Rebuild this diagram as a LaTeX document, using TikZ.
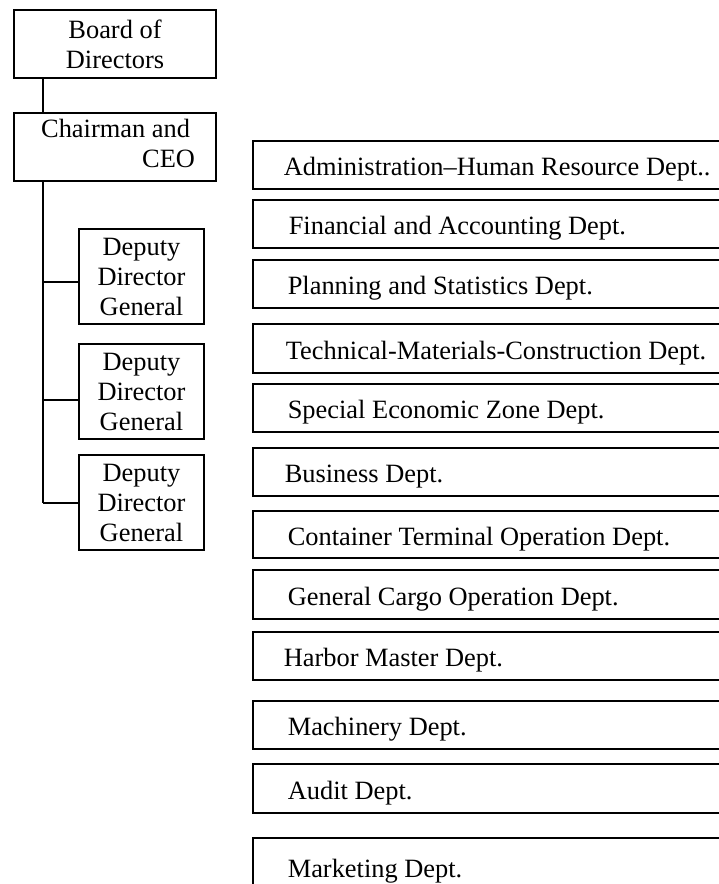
\documentclass[tikz,border=0pt]{standalone}
\usepackage{fontspec}
\setmainfont{Liberation Serif}
\begin{document}
\begin{tikzpicture}[x=1pt,y=-1pt,line width=1.6pt,
  every node/.style={font=\fontsize{26.4}{30}\selectfont},
  box/.style={draw,rectangle,inner sep=0pt,align=flush center},
  dept/.style={draw,rectangle,anchor=north west,inner ysep=0pt,
    minimum height=48pt,text height=24pt,text depth=2pt,
    text width=440pt,align=flush left}]
\useasboundingbox (0,0) rectangle (719,884);
\clip (0,0) rectangle (719,884);
\fill[white] (0,0) rectangle (719,884);

% left hierarchy
\node[box,minimum width=202pt,minimum height=68pt] (board) at (115,44) {Board of\\Directors};
\node[box,minimum width=202pt,minimum height=68pt,text width=160pt,text height=18pt,text depth=38pt,align=flush right] (chair) at (115,147) {Chairman and\kern5pt\\CEO};
\node[box,minimum width=125pt,minimum height=95pt] (dd1) at (141.5,276.5) {Deputy\\Director\\General};
\node[box,minimum width=125pt,minimum height=95pt] (dd2) at (141.5,391.5) {Deputy\\Director\\General};
\node[box,minimum width=125pt,minimum height=95pt] (dd3) at (141.5,502.5) {Deputy\\Director\\General};

\coordinate (spine) at (43,0);
\coordinate (b1) at ([yshift=-5.5pt]dd1.west);
\coordinate (b2) at ([yshift=-8.5pt]dd2.west);
\coordinate (b3) at ([yshift=-0.5pt]dd3.west);
\draw (board.south -| spine) -- (chair.north -| spine);
\draw (chair.south -| spine) -- (b3 -| spine);
\draw (b1 -| spine) -- (b1);
\draw (b2 -| spine) -- (b2);
\draw (b3 -| spine) -- (b3);

% departments
\node[dept,inner xsep=31pt] (adm) at (252,140) {Administration–Human Resource Dept..};
\node[dept,inner xsep=36pt] (fin) at (252,199) {Financial and Accounting Dept.};
\node[dept,inner xsep=35pt] (pla) at (252,259) {Planning and Statistics Dept.};
\node[dept,inner xsep=33pt,minimum height=49pt] (tec) at (252,323) {Technical-Materials-Construction Dept.};
\node[dept,inner xsep=35pt] (spe) at (252,383) {Special Economic Zone Dept.};
\node[dept,inner xsep=32pt] (bus) at (252,447) {Business Dept.};
\node[dept,inner xsep=35pt,minimum height=47pt] (con) at (252,510) {Container Terminal Operation Dept.};
\node[dept,inner xsep=35pt,minimum height=49pt] (gen) at (252,569) {General Cargo Operation Dept.};
\node[dept,inner xsep=31pt] (har) at (252,631) {Harbor Master Dept.};
\node[dept,inner xsep=35pt] (mac) at (252,700) {Machinery Dept.};
\node[dept,inner xsep=35pt,minimum height=49pt] (aud) at (252,763) {Audit Dept.};
\node[dept,inner xsep=35pt,minimum height=80pt,text height=10pt,text depth=10pt] (mar) at (252,837) {Marketing Dept.};
\end{tikzpicture}
\end{document}
